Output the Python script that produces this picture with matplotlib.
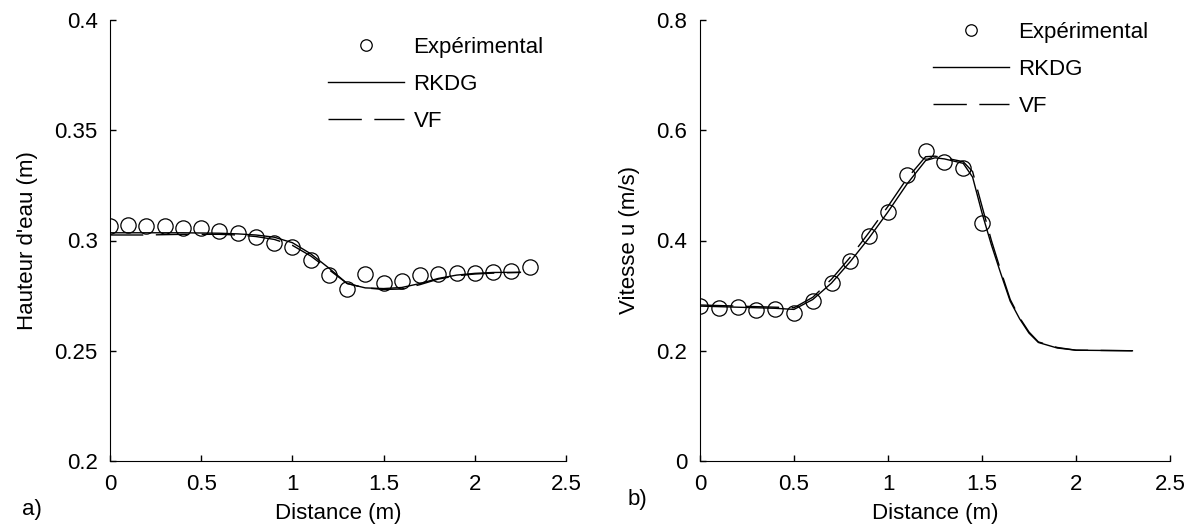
import matplotlib.pyplot as plt
import matplotlib.ticker as mticker

# experimental points
x_exp_h = [0.0, 0.1, 0.2, 0.3, 0.4, 0.5, 0.6, 0.7, 0.8, 0.9, 1.0, 1.1,
           1.2, 1.3, 1.4, 1.5, 1.6, 1.7, 1.8, 1.9, 2.0, 2.1, 2.2, 2.3]
h_exp = [0.3066, 0.3070, 0.3066, 0.3066, 0.3055, 0.3055, 0.3043, 0.3035,
         0.3017, 0.2990, 0.2969, 0.2912, 0.2844, 0.2779, 0.2847, 0.2806,
         0.2816, 0.2844, 0.2848, 0.2854, 0.2854, 0.2859, 0.2863, 0.2878]

x_exp_u = [0.0, 0.1, 0.2, 0.3, 0.4, 0.5, 0.6, 0.7, 0.8, 0.9, 1.0, 1.1,
           1.2, 1.3, 1.4, 1.5]
u_exp = [0.281, 0.277, 0.279, 0.274, 0.275, 0.268, 0.290, 0.323,
         0.362, 0.408, 0.452, 0.519, 0.562, 0.543, 0.531, 0.432]

# simulations, water depth
x_sim_h = [0.0, 0.2, 0.4, 0.6, 0.7, 0.8, 0.9, 1.0, 1.1, 1.2, 1.3, 1.4,
           1.5, 1.6, 1.7, 1.8, 1.9, 2.0, 2.1, 2.25]
h_rkdg = [0.3035, 0.3035, 0.3035, 0.3033, 0.3030, 0.3025, 0.3015, 0.2990,
          0.2940, 0.2875, 0.2805, 0.2785, 0.2782, 0.2787, 0.2805, 0.2828,
          0.2843, 0.2851, 0.2855, 0.2856]
h_vf = [0.3025, 0.3025, 0.3028, 0.3028, 0.3025, 0.3018, 0.3005, 0.2978,
        0.2930, 0.2868, 0.2805, 0.2785, 0.2778, 0.2780, 0.2800, 0.2825,
        0.2840, 0.2848, 0.2852, 0.2855]

# simulations, velocity
x_sim_u = [0.0, 0.2, 0.4, 0.5, 0.6, 0.7, 0.8, 0.9, 1.0, 1.1, 1.2, 1.25,
           1.3, 1.4, 1.45, 1.5, 1.55, 1.6, 1.65, 1.7, 1.75, 1.8, 1.9, 2.0, 2.3]
u_rkdg = [0.281, 0.279, 0.277, 0.275, 0.293, 0.323, 0.362, 0.405, 0.452,
          0.502, 0.545, 0.550, 0.548, 0.540, 0.515, 0.450, 0.392, 0.340,
          0.290, 0.258, 0.232, 0.215, 0.205, 0.201, 0.200]
u_vf = [0.283, 0.281, 0.279, 0.278, 0.297, 0.330, 0.370, 0.415, 0.462,
        0.512, 0.552, 0.553, 0.550, 0.543, 0.525, 0.462, 0.400, 0.345,
        0.293, 0.260, 0.234, 0.216, 0.206, 0.201, 0.200]

plt.rcParams['font.family'] = ['Liberation Sans', 'DejaVu Sans']
plt.rcParams['font.size'] = 16

W, H = 1194, 531
fig = plt.figure(figsize=(W / 100, H / 100), dpi=100)
ax1 = fig.add_axes([110 / W, 1 - 461 / H, 456 / W, 441 / H])
ax2 = fig.add_axes([700 / W, 1 - 461 / H, 470 / W, 441 / H])

vf_dash = (0, (24, 9))

def style(ax):
    ax.spines['top'].set_visible(False)
    ax.spines['right'].set_visible(False)
    ax.tick_params(direction='in', length=4, width=1, pad=9)
    ax.xaxis.set_major_formatter(mticker.FormatStrFormatter('%g'))
    ax.yaxis.set_major_formatter(mticker.FormatStrFormatter('%g'))
    ax.set_xlim(0, 2.5)
    ax.set_xticks([0, 0.5, 1, 1.5, 2, 2.5])

for ax, xe, ye, xs, yr, yv in [(ax1, x_exp_h, h_exp, x_sim_h, h_rkdg, h_vf),
                               (ax2, x_exp_u, u_exp, x_sim_u, u_rkdg, u_vf)]:
    style(ax)
    ax.plot(xe, ye, 'o', ms=11, mfc='none', mec='black', mew=0.9,
            label='Expérimental')
    ax.plot(xs, yr, '-', color='black', lw=1.0, label='RKDG')
    ax.plot(xs, yv, color='black', lw=1.0, linestyle=vf_dash, label='VF')

ax1.set_ylim(0.2, 0.4)
ax1.set_yticks([0.2, 0.25, 0.3, 0.35, 0.4])
ax1.set_ylabel("Hauteur d'eau (m)", labelpad=12)
ax1.set_xlabel('Distance (m)', labelpad=6)

ax2.set_ylim(0, 0.8)
ax2.set_yticks([0, 0.2, 0.4, 0.6, 0.8])
ax2.set_ylabel('Vitesse u (m/s)', labelpad=12)
ax2.set_xlabel('Distance (m)', labelpad=6)

for ax, lx, ly in [(ax1, 328, 37), (ax2, 933, 22)]:
    ax.legend(loc='upper left', bbox_to_anchor=(lx / W, 1 - ly / H),
              bbox_transform=fig.transFigure, frameon=False, borderpad=0,
              borderaxespad=0, handlelength=3.4, handletextpad=0.45,
              labelspacing=0.72, markerscale=0.75, numpoints=1)

fig.text(22 / W, 1 - 510 / H, 'a)', va='center', ha='left')
fig.text(628 / W, 1 - 500 / H, 'b)', va='center', ha='left')

fig.savefig('out.png', dpi=100)
